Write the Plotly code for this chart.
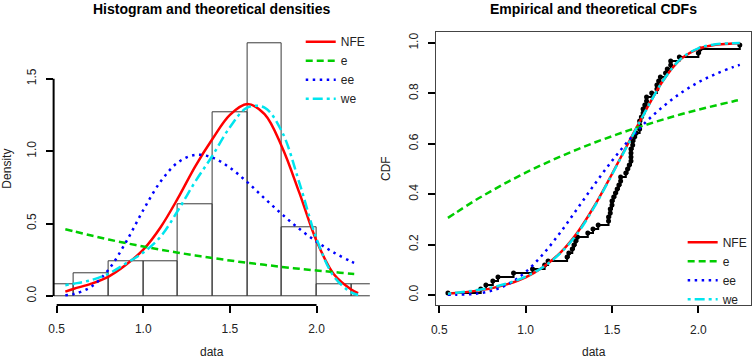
import numpy as np
import plotly.graph_objects as go
from plotly.subplots import make_subplots

# glass fibre strength sample (63 obs)
glass = [0.55, 0.74, 0.77, 0.81, 0.84, 0.93, 1.04, 1.11, 1.13, 1.24,
         1.25, 1.27, 1.28, 1.29, 1.30, 1.36, 1.39, 1.42, 1.48, 1.48,
         1.49, 1.49, 1.50, 1.50, 1.51, 1.52, 1.53, 1.54, 1.55, 1.55,
         1.58, 1.59, 1.60, 1.61, 1.61, 1.61, 1.61, 1.62, 1.62, 1.63,
         1.64, 1.66, 1.66, 1.66, 1.67, 1.68, 1.68, 1.69, 1.70, 1.70,
         1.73, 1.76, 1.76, 1.77, 1.78, 1.81, 1.82, 1.84, 1.84, 1.89,
         2.00, 2.01, 2.24]
bin_start = 0.4
bin_size = 0.2

# fitted curves
grid = [0.55, 0.6, 0.7, 0.8, 0.9, 1.0, 1.1, 1.2, 1.3, 1.4,
        1.5, 1.6, 1.7, 1.8, 1.9, 2.0, 2.1, 2.2, 2.24]

dens_nfe = [0.030, 0.050, 0.085, 0.134, 0.215, 0.320, 0.475, 0.675, 0.895, 1.085,
            1.250, 1.325, 1.255, 1.030, 0.715, 0.380, 0.150, 0.045, 0.019]
dens_e = [0.461, 0.446, 0.417, 0.390, 0.365, 0.342, 0.320, 0.299, 0.280, 0.262,
          0.245, 0.229, 0.215, 0.201, 0.188, 0.176, 0.165, 0.154, 0.150]
dens_ee = [0.005, 0.014, 0.064, 0.183, 0.372, 0.593, 0.790, 0.922, 0.974, 0.955,
           0.885, 0.786, 0.674, 0.565, 0.464, 0.375, 0.300, 0.238, 0.217]
dens_we = [0.075, 0.085, 0.110, 0.155, 0.225, 0.300, 0.410, 0.590, 0.790, 0.970,
           1.165, 1.300, 1.300, 1.135, 0.785, 0.395, 0.135, 0.025, 0.007]

cdf_nfe = [0.006, 0.008, 0.015, 0.026, 0.044, 0.070, 0.110, 0.167, 0.248, 0.355,
           0.480, 0.610, 0.738, 0.855, 0.937, 0.977, 0.993, 0.998, 0.999]
cdf_e = [0.306, 0.328, 0.372, 0.412, 0.450, 0.485, 0.518, 0.549, 0.578, 0.605,
         0.630, 0.654, 0.676, 0.697, 0.717, 0.735, 0.752, 0.768, 0.774]
cdf_ee = [0.0002, 0.0007, 0.004, 0.016, 0.043, 0.091, 0.161, 0.247, 0.343, 0.440,
          0.532, 0.616, 0.689, 0.750, 0.802, 0.844, 0.877, 0.904, 0.913]
cdf_we = [0.005, 0.009, 0.017, 0.029, 0.047, 0.073, 0.110, 0.165, 0.244, 0.352,
          0.478, 0.607, 0.737, 0.855, 0.938, 0.979, 0.995, 0.999, 1.000]

x_ticks = [0.5, 1.0, 1.5, 2.0]
dens_ticks = [0.0, 0.5, 1.0, 1.5]
cdf_ticks = [0.0, 0.2, 0.4, 0.6, 0.8, 1.0]

STYLES = {
    "NFE": dict(color="#FF0000", width=2.5),
    "e": dict(color="#00CD00", width=2.5, dash="7px,4px"),
    "ee": dict(color="#0000FF", width=2.5, dash="2.5px,4.5px"),
    "we": dict(color="#00E5EE", width=2.5, dash="3px,4px,10px,4px"),
}
FONT = "Liberation Sans, Arial, sans-serif"
INK = "#222222"

fig = make_subplots(rows=1, cols=2)

fig.add_trace(go.Histogram(
    x=glass, histnorm="probability density",
    xbins=dict(start=bin_start + 1e-6, end=2.4 + 1e-6, size=bin_size),
    marker=dict(color="rgba(0,0,0,0)", line=dict(color="#3a3a3a", width=1)),
    showlegend=False, hoverinfo="skip",
), row=1, col=1)

for name, dens in [("NFE", dens_nfe), ("e", dens_e), ("ee", dens_ee), ("we", dens_we)]:
    fig.add_trace(go.Scatter(
        x=grid, y=dens, mode="lines", name=name,
        line=dict(shape="spline", **STYLES[name]), legend="legend",
    ), row=1, col=1)

# empirical cdf with plotting positions (i - 0.5) / n
xs = np.sort(np.array(glass))
pp = (np.arange(1, len(xs) + 1) - 0.5) / len(xs)
fig.add_trace(go.Scatter(
    x=xs, y=pp, mode="lines+markers",
    line=dict(shape="hv", color="black", width=2),
    marker=dict(color="black", size=5),
    showlegend=False,
), row=1, col=2)

for name, cdf in [("NFE", cdf_nfe), ("e", cdf_e), ("ee", cdf_ee), ("we", cdf_we)]:
    fig.add_trace(go.Scatter(
        x=grid, y=cdf, mode="lines", name=name,
        line=dict(shape="spline", **STYLES[name]), legend="legend2",
    ), row=1, col=2)

xr = [0.4824, 2.3076]
axis_common = dict(
    showgrid=False, zeroline=False, automargin=False,
    ticks="outside", ticklen=7, tickwidth=1.5, tickcolor="black",
    tickfont=dict(size=12, color=INK, family=FONT),
    title_font=dict(size=12, color=INK, family=FONT),
)

fig.update_xaxes(axis_common)
fig.update_yaxes(axis_common)

fig.update_layout(
    template="none",
    width=752, height=360,
    margin=dict(l=0, r=0, t=0, b=0),
    paper_bgcolor="white", plot_bgcolor="white",
    font=dict(family=FONT, color=INK, size=12),
    xaxis=dict(domain=[0.0713, 0.4918], range=xr, tickvals=x_ticks,
               ticktext=[f"{v:.1f}" for v in x_ticks], ticklabelstandoff=6,
               showline=False),
    yaxis=dict(domain=[0.1528, 0.9103], range=[-0.062, 1.82], tickvals=dens_ticks,
               ticktext=[f"{v:.1f}" for v in dens_ticks], tickangle=-90,
               ticklabelstandoff=5, showline=False,
               title=dict(text="Density", standoff=12)),
    xaxis2=dict(domain=[0.5801, 0.9993], range=xr, tickvals=x_ticks,
                ticktext=[f"{v:.1f}" for v in x_ticks], ticklabelstandoff=6,
                showline=True, mirror=True, linecolor="#444444", linewidth=1.3),
    yaxis2=dict(domain=[0.1528, 0.9103], range=[-0.04, 1.0425], tickvals=cdf_ticks,
                ticktext=[f"{v:.1f}" for v in cdf_ticks], tickangle=-90,
                ticklabelstandoff=5, showline=True, mirror=True,
                linecolor="#444444", linewidth=1.3,
                title=dict(text="CDF", standoff=14)),
    legend=dict(x=0.3999, y=0.9246, xanchor="left", yanchor="top",
                bgcolor="rgba(0,0,0,0)", font=dict(size=12, color=INK),
                tracegroupgap=0),
    legend2=dict(x=0.9078, y=0.3677, xanchor="left", yanchor="top",
                 bgcolor="rgba(0,0,0,0)", font=dict(size=12, color=INK),
                 tracegroupgap=0),
    showlegend=True,
)

# R style axis lines on the left panel, spanning first to last tick only
fig.add_shape(type="line", xref="x", yref="y domain",
              x0=min(x_ticks), x1=max(x_ticks), y0=0, y1=0,
              line=dict(color="black", width=2))
fig.add_shape(type="line", xref="x domain", yref="y",
              x0=0, x1=0, y0=min(dens_ticks), y1=max(dens_ticks),
              line=dict(color="black", width=2))

# panel titles and x axis titles
for xref, text in [("x domain", "Histogram and theoretical densities"),
                   ("x2 domain", "Empirical and theoretical CDFs")]:
    fig.add_annotation(text=f"<b>{text}</b>", xref=xref, yref="paper",
                       x=0.5, y=1 - 9 / 360, xanchor="center", yanchor="middle",
                       showarrow=False, font=dict(size=14, color="black", family=FONT))
    fig.add_annotation(text="data", xref=xref, yref="paper",
                       x=0.5, y=0, xanchor="center", yanchor="bottom", yshift=-1,
                       showarrow=False, font=dict(size=12, color=INK, family=FONT))

# drop the default body margin so the 752x360 figure sits at the page origin
fig.write_html("out.html", config={"displayModeBar": False},
               post_script="document.body.style.margin = '0';")
